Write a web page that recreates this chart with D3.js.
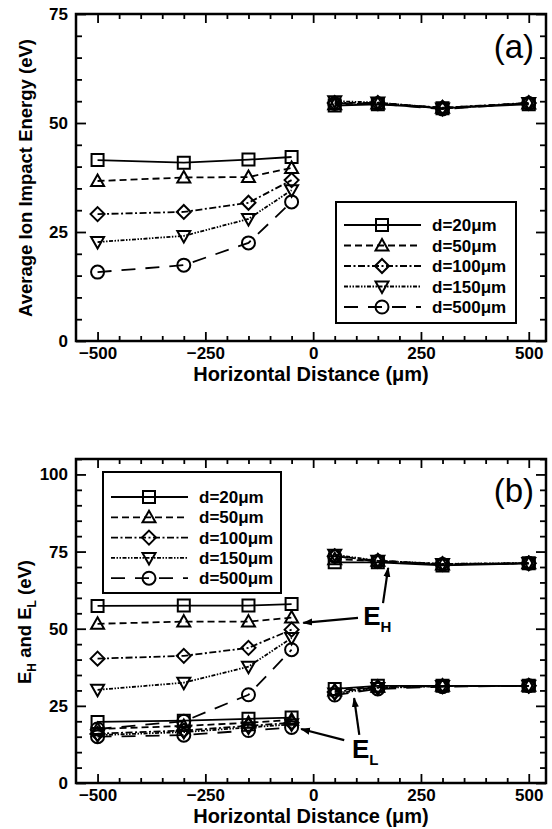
<!DOCTYPE html>
<html>
<head>
<meta charset="utf-8">
<script src="https://cdn.jsdelivr.net/npm/d3@7"></script>
<style>
  body { margin: 0; background: #fff; }
  text { font-family: "Liberation Sans", Arial, sans-serif; }
</style>
</head>
<body>
<svg id="chart" width="552" height="829"></svg>
<script>
// x positions of the probes, left and right of the trench
const leftX = [-500, -300, -150, -50];
const rightX = [50, 150, 300, 500];
const seriesLabels = ["d=20\u03bcm", "d=50\u03bcm", "d=100\u03bcm", "d=150\u03bcm", "d=500\u03bcm"];

// (a) average ion impact energy
const impactLeft = [
  [41.5, 40.9, 41.6, 42.2],
  [36.7, 37.5, 37.6, 39.7],
  [29.1, 29.6, 31.7, 36.9],
  [22.7, 24.1, 28.0, 34.6],
  [15.8, 17.4, 22.5, 31.9]
];
const impactRight = [
  [54.0, 54.3, 53.4, 54.3],
  [54.3, 54.5, 53.5, 54.5],
  [54.6, 54.6, 53.5, 54.6],
  [55.0, 54.7, 53.3, 54.6],
  [54.5, 54.4, 53.2, 54.5]
];

// (b) high (E_H) and low (E_L) energy peaks
const ehLeft = [
  [57.4, 57.5, 57.5, 58.0],
  [51.6, 52.3, 52.3, 53.6],
  [40.3, 41.2, 43.8, 49.7],
  [30.2, 32.5, 37.7, 47.0],
  [17.5, 20.0, 28.6, 43.2]
];
const ehRight = [
  [71.5, 71.5, 70.5, 71.2],
  [72.5, 72.0, 70.8, 71.2],
  [73.5, 72.0, 71.0, 71.2],
  [74.0, 72.0, 71.0, 71.3],
  [73.5, 71.8, 70.8, 71.2]
];
const elLeft = [
  [19.8, 20.2, 20.8, 21.2],
  [17.5, 18.5, 19.5, 20.5],
  [16.0, 17.0, 18.5, 19.5],
  [15.5, 16.5, 18.0, 19.0],
  [15.0, 15.5, 17.0, 18.0]
];
const elRight = [
  [30.5, 31.5, 31.5, 31.5],
  [30.0, 31.2, 31.5, 31.5],
  [29.5, 31.0, 31.4, 31.5],
  [29.0, 30.8, 31.4, 31.5],
  [28.5, 30.5, 31.2, 31.5]
];

const xMajor = [-500, -250, 0, 250, 500];
const yMajorA = [0, 25, 50, 75];
const yMajorB = [0, 25, 50, 75, 100];

const dashes = [null, "7,4", "7,2.5,2,2.5", "4,1.5,1.5,1.5,1.5,1.5", "14,10"];
const shapes = ["square", "triangle", "diamond", "down", "circle"];

const svg = d3.select("#chart");

const shapePath = (type) => {
  const p = d3.path();
  if (type === "square") {
    p.rect(-6, -6, 12, 12);
  } else if (type === "triangle") {
    p.moveTo(0, -6.5); p.lineTo(6.5, 5); p.lineTo(-6.5, 5); p.closePath();
  } else if (type === "diamond") {
    p.moveTo(0, -7); p.lineTo(7, 0); p.lineTo(0, 7); p.lineTo(-7, 0); p.closePath();
  } else if (type === "down") {
    p.moveTo(0, 6.5); p.lineTo(6.5, -5); p.lineTo(-6.5, -5); p.closePath();
  } else {
    p.arc(0, 0, 6.5, 0, 2 * Math.PI);
  }
  return p.toString();
};

const x = d3.scaleLinear().domain([-550, 540]).range([76, 546]);

// arrowhead
svg.append("defs").append("marker")
  .attr("id", "arrow")
  .attr("viewBox", "0 0 10 10")
  .attr("refX", 9).attr("refY", 5)
  .attr("markerWidth", 10).attr("markerHeight", 10)
  .attr("markerUnits", "userSpaceOnUse")
  .attr("orient", "auto")
  .append("path")
  .attr("d", "M0,1.5L10,5L0,8.5Z")
  .attr("fill", "#000");

const drawAxes = (g, y, top, bottom, yMajor, yMax) => {
  const xMinor = d3.range(-500, 501, 50).filter((v) => !xMajor.includes(v));
  const yMinor = d3.range(0, yMax + 0.1, 5).filter((v) => !yMajor.includes(v));

  const styleAxis = (sel) => {
    sel.select(".domain").remove();
    sel.selectAll("line").attr("stroke", "#000").attr("stroke-width", 1.8);
    sel.selectAll("text")
      .attr("fill", "#000")
      .style("font-size", "17px")
      .style("font-weight", "bold");
  };

  g.append("g").attr("transform", `translate(0,${bottom})`)
    .call(d3.axisBottom(x).tickValues(xMajor).tickSize(-9).tickPadding(6))
    .call(styleAxis);
  g.append("g").attr("transform", `translate(0,${bottom})`)
    .call(d3.axisBottom(x).tickValues(xMinor).tickSize(-5).tickFormat(""))
    .call(styleAxis);
  g.append("g").attr("transform", `translate(0,${top})`)
    .call(d3.axisTop(x).tickValues(xMajor).tickSize(-9).tickFormat(""))
    .call(styleAxis);
  g.append("g").attr("transform", `translate(0,${top})`)
    .call(d3.axisTop(x).tickValues(xMinor).tickSize(-5).tickFormat(""))
    .call(styleAxis);

  g.append("g").attr("transform", `translate(${x.range()[0]},0)`)
    .call(d3.axisLeft(y).tickValues(yMajor).tickSize(-10).tickPadding(8))
    .call(styleAxis);
  g.append("g").attr("transform", `translate(${x.range()[0]},0)`)
    .call(d3.axisLeft(y).tickValues(yMinor).tickSize(-6).tickFormat(""))
    .call(styleAxis);
  g.append("g").attr("transform", `translate(${x.range()[1]},0)`)
    .call(d3.axisRight(y).tickValues(yMajor).tickSize(-10).tickFormat(""))
    .call(styleAxis);
  g.append("g").attr("transform", `translate(${x.range()[1]},0)`)
    .call(d3.axisRight(y).tickValues(yMinor).tickSize(-6).tickFormat(""))
    .call(styleAxis);

  g.append("rect")
    .attr("x", x.range()[0]).attr("y", top)
    .attr("width", x.range()[1] - x.range()[0]).attr("height", bottom - top)
    .attr("fill", "none").attr("stroke", "#000").attr("stroke-width", 2.5);
};

const drawSeries = (g, y, xs, values) => {
  const line = d3.line().x((d) => x(d[0])).y((d) => y(d[1]));
  values.forEach((vals, i) => {
    const pts = xs.map((v, j) => [v, vals[j]]);
    g.append("path")
      .attr("d", line(pts))
      .attr("fill", "none")
      .attr("stroke", "#000")
      .attr("stroke-width", 1.8)
      .attr("stroke-dasharray", dashes[i]);
    g.selectAll(null)
      .data(pts)
      .join("path")
      .attr("transform", (d) => `translate(${x(d[0])},${y(d[1])})`)
      .attr("d", shapePath(shapes[i]))
      .attr("fill", "none")
      .attr("stroke", "#000")
      .attr("stroke-width", 2);
  });
};

const drawLegend = (g, left, top, width, height, rowStart, rowStep) => {
  g.append("rect")
    .attr("x", left).attr("y", top)
    .attr("width", width).attr("height", height)
    .attr("fill", "#fff").attr("stroke", "#000").attr("stroke-width", 2);
  seriesLabels.forEach((label, i) => {
    const ry = rowStart + i * rowStep;
    g.append("line")
      .attr("x1", left + 8).attr("x2", left + 85)
      .attr("y1", ry).attr("y2", ry)
      .attr("stroke", "#000").attr("stroke-width", 1.8)
      .attr("stroke-dasharray", dashes[i]);
    g.append("path")
      .attr("transform", `translate(${left + 46},${ry})`)
      .attr("d", shapePath(shapes[i]))
      .attr("fill", "none").attr("stroke", "#000").attr("stroke-width", 2);
    g.append("text")
      .attr("x", left + 96).attr("y", ry)
      .attr("dy", "0.36em")
      .style("font-size", "17px").style("font-weight", "bold")
      .text(label);
  });
};

const xTitle = (g, yPos) => {
  g.append("text")
    .attr("x", 311).attr("y", yPos)
    .attr("text-anchor", "middle")
    .style("font-size", "20px").style("font-weight", "bold")
    .text("Horizontal Distance (\u03bcm)");
};

// ---- panel (a)
const ga = svg.append("g");
const ya = d3.scaleLinear().domain([0, 75]).range([341, 14]);
drawAxes(ga, ya, 14, 341, yMajorA, 75);
drawSeries(ga, ya, leftX, impactLeft);
drawSeries(ga, ya, rightX, impactRight);
drawLegend(ga, 336, 202, 180, 121, 225, 20.5);
xTitle(ga, 381);
ga.append("text")
  .attr("transform", "translate(32,178)rotate(-90)")
  .attr("text-anchor", "middle")
  .style("font-size", "18.5px").style("font-weight", "bold")
  .text("Average Ion Impact Energy (eV)");
ga.append("text")
  .attr("x", 534).attr("y", 58)
  .attr("text-anchor", "end")
  .style("font-size", "33px")
  .text("(a)");

// ---- panel (b)
const gb = svg.append("g");
const yb = d3.scaleLinear().domain([0, 105]).range([783, 459]);
drawAxes(gb, yb, 459, 783, yMajorB, 105);
drawSeries(gb, yb, leftX, elLeft);
drawSeries(gb, yb, rightX, elRight);
drawSeries(gb, yb, leftX, ehLeft);
drawSeries(gb, yb, rightX, ehRight);
drawLegend(gb, 103, 472, 178, 121, 497, 20.3);
xTitle(gb, 823);

const yl = gb.append("text")
  .attr("transform", "translate(31,622)rotate(-90)")
  .attr("text-anchor", "middle")
  .style("font-size", "18.5px").style("font-weight", "bold");
yl.append("tspan").text("E");
yl.append("tspan").attr("dy", 5).style("font-size", "12px").text("H");
yl.append("tspan").attr("dy", -5).text(" and E");
yl.append("tspan").attr("dy", 5).style("font-size", "12px").text("L");
yl.append("tspan").attr("dy", -5).text(" (eV)");

gb.append("text")
  .attr("x", 534).attr("y", 502)
  .attr("text-anchor", "end")
  .style("font-size", "33px")
  .text("(b)");

// annotations, in data units
const peakLabels = [
  { main: "E", sub: "H", at: [116, 51.2] },
  { main: "E", sub: "L", at: [90, 8.1] }
];
const peakArrows = [
  { from: [104, 53.5], to: [-23, 51.9] },
  { from: [162, 58.3], to: [174, 69.7] },
  { from: [72, 13.9], to: [-28, 17.5] },
  { from: [107, 15.6], to: [95, 27.5] }
];

peakLabels.forEach((d) => {
  const t = gb.append("text")
    .attr("x", x(d.at[0])).attr("y", yb(d.at[1]))
    .style("font-size", "26px").style("font-weight", "bold");
  t.append("tspan").text(d.main);
  t.append("tspan").attr("dy", 7).style("font-size", "15px").text(d.sub);
});

peakArrows.forEach((d) => {
  gb.append("line")
    .attr("x1", x(d.from[0])).attr("y1", yb(d.from[1]))
    .attr("x2", x(d.to[0])).attr("y2", yb(d.to[1]))
    .attr("stroke", "#000").attr("stroke-width", 2.2)
    .attr("marker-end", "url(#arrow)");
});
</script>
</body>
</html>
